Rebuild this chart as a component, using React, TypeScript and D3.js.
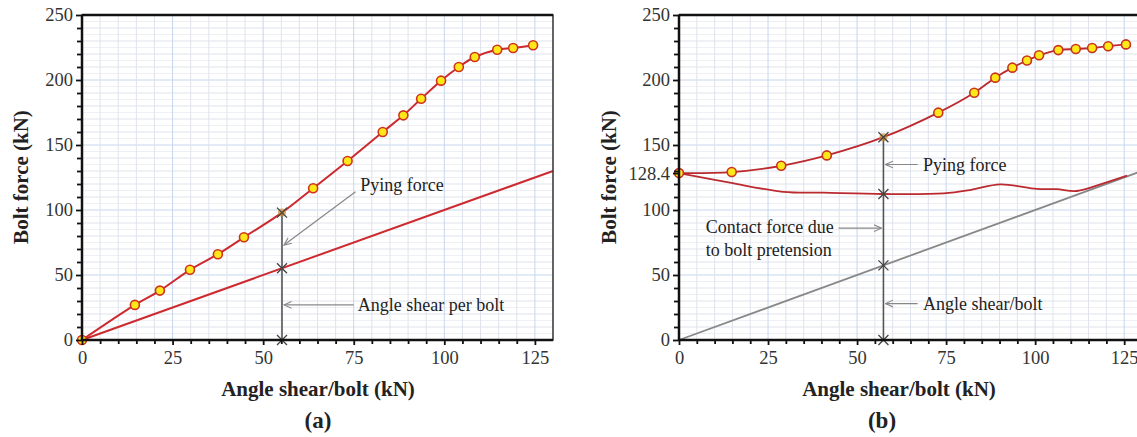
import React, { useEffect, useRef } from 'react';
import * as d3 from 'd3';

// panel (a): bolt force vs angle shear
const aShear = [0, 14.6, 21.5, 29.8, 37.5, 44.7, 55.2, 63.8, 73.3, 83, 88.7, 93.6, 99.1, 104, 108.4, 114.6, 119, 124.5];
const aBolt = [0, 27, 38, 54, 66, 79, 98, 116.7, 137.7, 160, 172.8, 185.6, 199.5, 210, 217.7, 223.3, 224.6, 226.7];
const aMarkX = 55.2;

// panel (b): pretensioned bolt
const bShear = [0, 14.8, 28.7, 41.5, 57.4, 72.8, 82.9, 88.8, 93.6, 97.7, 101.1, 106.5, 111.4, 116, 120.5, 125.5];
const bBolt = [128.4, 129.2, 134, 142, 156, 174.9, 190.2, 201.8, 209.5, 215, 219, 223, 223.8, 224.6, 226, 227.4];
const bContactX = [0, 14.3, 29.3, 40.5, 57.4, 74.3, 82, 90.2, 100.5, 106, 111.7, 119.2, 125.8];
const bContactY = [128.4, 121, 114, 113.3, 112.3, 112.8, 115.5, 119.7, 116.2, 116, 114.6, 120.5, 126.4];
const bMarkX = 57.4;

const xTicks = [0, 25, 50, 75, 100, 125];
const yTicksA = [0, 50, 100, 150, 200, 250];
const yTicksB = [0, 50, 100, 128.4, 150, 200, 250];

const FONT = "'Liberation Serif', 'DejaVu Serif', serif";

const App = () => {
  const ref = useRef<SVGSVGElement>(null);

  useEffect(() => {
    const svg = d3.select(ref.current);
    svg.selectAll('*').remove();

    const defs = svg.append('defs');
    defs.append('marker')
      .attr('id', 'arr')
      .attr('viewBox', '0 0 10 10')
      .attr('refX', 9).attr('refY', 5)
      .attr('markerWidth', 7).attr('markerHeight', 7)
      .attr('orient', 'auto')
      .append('path')
      .attr('d', 'M0,1 L9,5 L0,9')
      .attr('fill', 'none')
      .attr('stroke', '#888')
      .attr('stroke-width', 1.3);

    const drawPanel = (opts: any) => {
      const { x0, x1, yTicks, label, cx } = opts;
      const x = d3.scaleLinear().domain([0, 130]).range([x0, x1]);
      const y = d3.scaleLinear().domain([0, 250]).range([340, 15]);
      const g = svg.append('g');

      // grid
      const clipId = 'clip' + label;
      defs.append('clipPath').attr('id', clipId).append('rect')
        .attr('x', x0).attr('y', 15).attr('width', x1 - x0).attr('height', 325);
      const grid = g.append('g').attr('clip-path', `url(#${clipId})`);
      grid.append('rect').attr('x', x0).attr('y', 15).attr('width', x1 - x0).attr('height', 325).attr('fill', '#fff');
      grid.selectAll('.gy5').data(d3.range(5, 250, 5).filter(v => v % 10 !== 0)).enter().append('line')
        .attr('x1', x0).attr('x2', x1).attr('y1', d => y(d)).attr('y2', d => y(d))
        .attr('stroke', '#eef0f5').attr('stroke-width', 1);
      grid.selectAll('.gy').data(d3.range(10, 250, 10)).enter().append('line')
        .attr('x1', x0).attr('x2', x1).attr('y1', d => y(d)).attr('y2', d => y(d))
        .attr('stroke', d => (d % 50 === 0 ? '#c6d6ee' : '#dfe3ec')).attr('stroke-width', 1);
      grid.selectAll('.gx').data(d3.range(5, 131, 5)).enter().append('line')
        .attr('y1', 15).attr('y2', 340).attr('x1', d => x(d)).attr('x2', d => x(d))
        .attr('stroke', d => (d % 25 === 0 ? '#c6d6ee' : '#dfe3ec')).attr('stroke-width', 1);

      const line = d3.line<[number, number]>().x(d => x(d[0])).y(d => y(d[1])).curve(d3.curveCatmullRom);

      if (label === 'a') {
        const pts = aShear.map((v, i) => [v, aBolt[i]] as [number, number]);
        // angle shear per bolt (y = x)
        g.append('line')
          .attr('x1', x(0)).attr('y1', y(0)).attr('x2', x(130)).attr('y2', y(130))
          .attr('stroke', '#cc2a2f').attr('stroke-width', 2);
        g.append('path').attr('d', line(pts)).attr('fill', 'none').attr('stroke', '#cc2a2f').attr('stroke-width', 2);
        const top = aBolt[aShear.indexOf(aMarkX)];
        annot(g, x, y, aMarkX, [top, aMarkX, 0]);
        g.selectAll('.pt').data(pts.filter(p => p[0] !== aMarkX)).enter().append('circle')
          .attr('cx', d => x(d[0])).attr('cy', d => y(d[1])).attr('r', 4.5)
          .attr('fill', '#ffe81a').attr('stroke', '#d0331a').attr('stroke-width', 1.6);
        arrowText(g, x(75.5), y(114), x(aMarkX) + 2, y(73), 'Pying force', x(76.8), y(114) - 1);
        arrowText(g, x(75), y(27), x(aMarkX) + 2, y(27), 'Angle shear per bolt', x(75) + 4, y(27) + 6);
      } else {
        const pts = bShear.map((v, i) => [v, bBolt[i]] as [number, number]);
        const contact = bContactX.map((v, i) => [v, bContactY[i]] as [number, number]);
        g.append('line')
          .attr('x1', x(0)).attr('y1', y(0)).attr('x2', x(130)).attr('y2', y(130))
          .attr('stroke', '#888').attr('stroke-width', 1.8);
        g.append('path').attr('d', line(contact)).attr('fill', 'none').attr('stroke', '#bb2a2f').attr('stroke-width', 1.8);
        g.append('path').attr('d', line(pts)).attr('fill', 'none').attr('stroke', '#bb2a2f').attr('stroke-width', 1.8);
        const top = bBolt[bShear.indexOf(bMarkX)];
        annot(g, x, y, bMarkX, [top, 112.3, bMarkX, 0]);
        g.selectAll('.pt').data(pts.filter(p => p[0] !== bMarkX)).enter().append('circle')
          .attr('cx', d => x(d[0])).attr('cy', d => y(d[1])).attr('r', 4.5)
          .attr('fill', '#ffe81a').attr('stroke', '#c8331a').attr('stroke-width', 1.6);
        arrowText(g, x(67), y(135), x(bMarkX) + 2, y(135), 'Pying force', x(68.5), y(135) + 6);
        arrowText(g, x(67), y(28), x(bMarkX) + 2, y(28), 'Angle shear/bolt', x(68.5), y(28) + 6);
        arrowText(g, x(44.8), y(86), x(bMarkX) - 2, y(86), null, 0, 0);
        const t = g.append('text').style('font-family', FONT).attr('font-size', 18).attr('fill', '#222');
        t.append('tspan').attr('x', x(7.5)).attr('y', y(86) + 5).text('Contact force due');
        t.append('tspan').attr('x', x(7.5)).attr('y', y(86) + 28).text('to bolt pretension');
      }

      // frame
      g.append('rect').attr('x', x0).attr('y', 15).attr('width', x1 - x0).attr('height', 325)
        .attr('fill', 'none').attr('stroke', '#333').attr('stroke-width', 1.5);
      g.append('line').attr('x1', x0).attr('x2', x1).attr('y1', 15).attr('y2', 15).attr('stroke', '#111').attr('stroke-width', 2.5);
      g.append('line').attr('x1', x0).attr('x2', x1).attr('y1', 340).attr('y2', 340).attr('stroke', '#111').attr('stroke-width', 2.5);
      g.append('line').attr('x1', x0).attr('x2', x0).attr('y1', 15).attr('y2', 340).attr('stroke', '#111').attr('stroke-width', 2.5);

      // axes
      const ax = g.append('g').attr('transform', 'translate(0,340)')
        .call(d3.axisBottom(x).tickValues(xTicks).tickSize(5).tickSizeOuter(0).tickPadding(6));
      g.append('g').attr('transform', 'translate(0,340)')
        .call(d3.axisBottom(x).tickValues(d3.range(5, 130, 5).filter(v => v % 25 !== 0)).tickSize(4).tickFormat(() => ''))
        .select('.domain').remove();
      const ay = g.append('g').attr('transform', `translate(${x0},0)`)
        .call(d3.axisLeft(y).tickValues(yTicks).tickSize(6).tickSizeOuter(0).tickPadding(3)
          .tickFormat(d => (d === 128.4 ? '128.4' : String(d))));
      g.append('g').attr('transform', `translate(${x0},0)`)
        .call(d3.axisLeft(y).tickValues(d3.range(10, 250, 10).filter(v => v % 50 !== 0)).tickSize(5).tickFormat(() => ''))
        .select('.domain').remove();
      g.selectAll('.domain').remove();
      g.selectAll('.tick line').attr('stroke', '#111').attr('stroke-width', 1.8);
      [ax, ay].forEach(a => a.selectAll('text')
        .style('font-family', FONT).style('font-size', '18.5px').attr('fill', '#333'));

      g.append('text').attr('x', cx).attr('y', 396).attr('text-anchor', 'middle')
        .style('font-family', FONT).attr('font-weight', 'bold').attr('font-size', 21).attr('fill', '#222')
        .text('Angle shear/bolt (kN)');
      g.append('text').attr('transform', `translate(${opts.ty},177) rotate(-90)`).attr('text-anchor', 'middle')
        .style('font-family', FONT).attr('font-weight', 'bold').attr('font-size', 21).attr('fill', '#222')
        .text('Bolt force (kN)');
      g.append('text').attr('x', opts.lx).attr('y', 428).attr('text-anchor', 'middle')
        .style('font-family', FONT).attr('font-weight', 'bold').attr('font-size', 23).attr('fill', '#222')
        .text(`(${label})`);
    };

    function annot(g: any, x: any, y: any, xv: number, ys: number[]) {
      g.append('line').attr('x1', x(xv)).attr('x2', x(xv)).attr('y1', y(0)).attr('y2', y(ys[0]))
        .attr('stroke', '#555').attr('stroke-width', 1.6);
      ys.forEach((v, i) => {
        const px = x(xv), py = y(v), s = 5;
        if (i === 0) g.append('circle').attr('cx', px).attr('cy', py).attr('r', 4).attr('fill', '#c88a2a').attr('opacity', 0.7);
        g.append('path').attr('d', `M${px - s},${py - s}L${px + s},${py + s}M${px - s},${py + s}L${px + s},${py - s}`)
          .attr('stroke', '#444').attr('stroke-width', 1.3);
      });
    }

    function arrowText(g: any, xa: number, ya: number, xb: number, yb: number, txt: string | null, tx: number, ty: number) {
      g.append('line').attr('x1', xa).attr('y1', ya).attr('x2', xb).attr('y2', yb)
        .attr('stroke', '#888').attr('stroke-width', 1.2).attr('marker-end', 'url(#arr)');
      if (txt) g.append('text').attr('x', tx).attr('y', ty).style('font-family', FONT).attr('font-size', 18)
        .attr('fill', '#222').text(txt);
    }

    drawPanel({ x0: 82, x1: 553, yTicks: yTicksA, label: 'a', cx: 318, lx: 318, ty: 28 });
    drawPanel({ x0: 679, x1: 1142, yTicks: yTicksB, label: 'b', cx: 899, lx: 882, ty: 616 });
  }, []);

  return (
    <svg ref={ref} width={1137} height={437} style={{ position: 'absolute', left: 0, top: 0, background: '#fff' }} />
  );
};

export default App;
